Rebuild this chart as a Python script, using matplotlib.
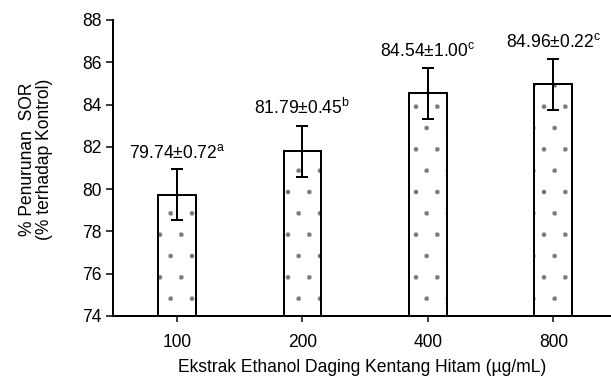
import numpy as np
from matplotlib import pyplot as plt

#%% Données
dosis = ['100', '200', '400', '800']
penurunan = [79.74, 81.79, 84.54, 84.96]
sd = [0.72, 0.45, 1.00, 0.22]
err_visual = [1.2, 1.2, 1.2, 1.2]      # longueur des barres d'erreur telle que dessinée
notasi = ['a', 'b', 'c', 'c']

#%% Réglages
DPI = 128                      # dpi choisi pour que le motif '.' ait le bon espacement
def px(p):                     # pixels -> points
    return p * 72.0 / DPI

plt.rcParams['font.family'] = ['Liberation Sans', 'DejaVu Sans']
plt.rcParams['mathtext.fontset'] = 'custom'
plt.rcParams['mathtext.rm'] = 'Liberation Sans'
plt.rcParams['hatch.linewidth'] = px(0.3)
fs = px(17.5)

#%% Figure
fig = plt.figure(figsize=(611/DPI, 383/DPI), dpi=DPI)
ax = fig.add_axes([113/611, 1-316/383, 1-113/611, (316-20)/383])

x = np.arange(len(dosis))
# motif pointillé gris, puis contour noir par-dessus
ax.bar(x, penurunan, width=0.30, color='white', edgecolor='#7a7a7a', linewidth=0,
       hatch='.')
ax.bar(x, penurunan, width=0.30, color='none', edgecolor='black', linewidth=px(2))
ax.errorbar(x, penurunan, yerr=err_visual, fmt='none', ecolor='black',
            elinewidth=px(2), capsize=px(6), capthick=px(2))

for i in range(len(dosis)):
    label = f'{penurunan[i]:.2f}±{sd[i]:.2f}' + r'$^{\mathrm{' + notasi[i] + '}}$'
    ax.text(x[i], penurunan[i] + err_visual[i] + 0.55, label, ha='center', va='baseline',
            fontsize=fs)

ax.set_ylim(74, 88)
ax.set_yticks(np.arange(74, 89, 2))
ax.set_xlim(-0.51, 3.46)
ax.set_xticks(x)
ax.set_xticklabels(dosis)
for s in ['top', 'right']:
    ax.spines[s].set_visible(False)
for s in ['left', 'bottom']:
    ax.spines[s].set_linewidth(px(2))
ax.tick_params(axis='y', direction='out', length=px(7), width=px(1.5), labelsize=fs,
               pad=px(4))
ax.tick_params(axis='x', direction='out', length=px(6), width=px(1.5), labelsize=fs,
               pad=px(12))
ax.set_ylabel('% Penurunan  SOR\n(% terhadap Kontrol)', fontsize=fs, linespacing=1.0)
ax.yaxis.set_label_coords(-0.12, 0.53)
ax.set_xlabel('Ekstrak Ethanol Daging Kentang Hitam (µg/mL)', fontsize=fs, labelpad=px(8))

fig.savefig('out.png', dpi=DPI)
